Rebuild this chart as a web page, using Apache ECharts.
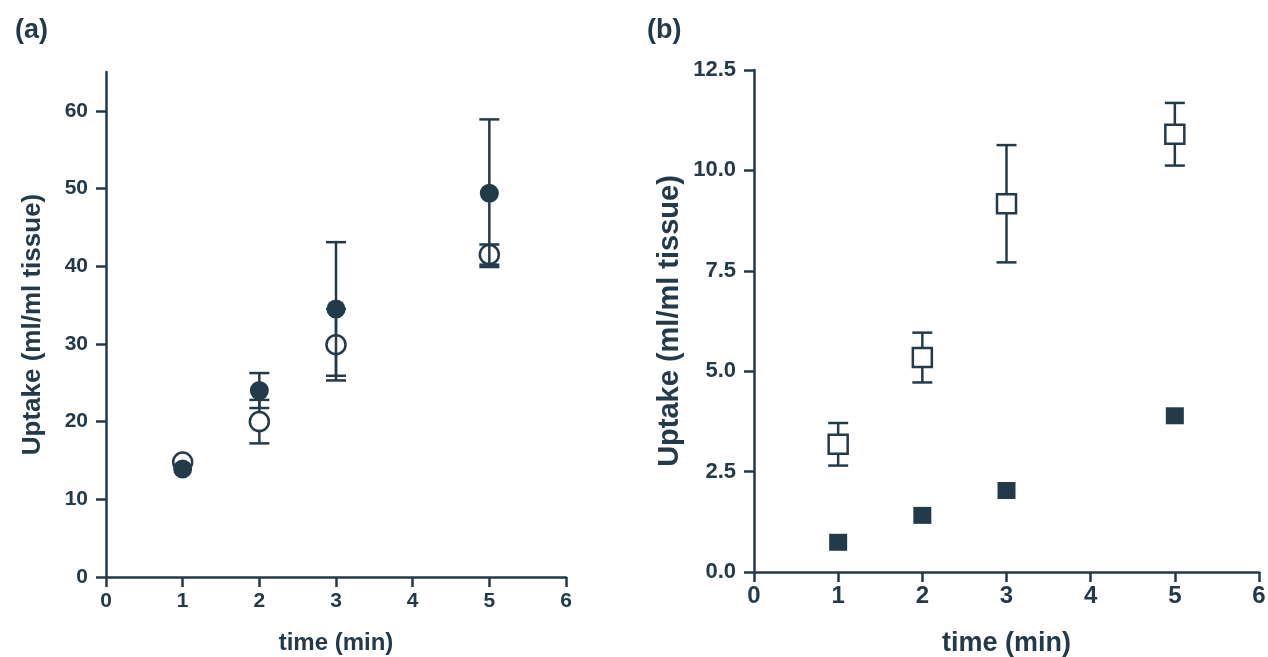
<!DOCTYPE html>
<html>
<head>
<meta charset="utf-8">
<script src="https://cdn.jsdelivr.net/npm/echarts@6/dist/echarts.min.js"></script>
<style>
html,body{margin:0;padding:0;background:#fff;}
#chart{width:1268px;height:657px;}
</style>
</head>
<body>
<div id="chart"></div>
<script>
// ---- Data ----
const timeA = [1, 2, 3, 5];
const filledA = [13.9, 24.0, 34.5, 49.4];
const filledErrA = [0, 2.25, 8.6, 9.5];
const openA = [14.8, 20.0, 29.9, 41.5];
const openErrA = [0, 2.8, 4.6, 1.3];

const timeB = [1, 2, 3, 5];
const openB = [3.18, 5.34, 9.17, 10.90];
const openErrB = [0.53, 0.62, 1.46, 0.78];
const filledB = [0.74, 1.41, 2.03, 3.89];

const xTicks = [0, 1, 2, 3, 4, 5, 6];
const yTicksA = [0, 10, 20, 30, 40, 50, 60];
const yTicksB = [0, 2.5, 5.0, 7.5, 10.0, 12.5];

const panelLabels = ['(a)', '(b)'];
const xTitle = 'time (min)';
const yTitle = 'Uptake (ml/ml tissue)';

// ---- Style ----
const INK = '#233a4b';
const FONT = "'Liberation Sans', Arial, Helvetica, sans-serif";

function pts(xs, ys, errs) {
  return xs.map((x, i) => errs ? [x, ys[i], errs[i]] : [x, ys[i]]);
}

function errRender(capHalf, lw) {
  return function (params, api) {
    const x = api.value(0), y = api.value(1), e = api.value(2);
    if (!e) return null;
    const t = api.coord([x, y + e]);
    const b = api.coord([x, y - e]);
    const st = { stroke: INK, lineWidth: lw };
    return {
      type: 'group',
      children: [
        { type: 'line', shape: { x1: t[0], y1: t[1], x2: b[0], y2: b[1] }, style: st },
        { type: 'line', shape: { x1: t[0] - capHalf, y1: t[1], x2: t[0] + capHalf, y2: t[1] }, style: st },
        { type: 'line', shape: { x1: b[0] - capHalf, y1: b[1], x2: b[0] + capHalf, y2: b[1] }, style: st }
      ]
    };
  };
}

function xAxisCfg(gi, fs, nameFs, gap, margin) {
  return {
    gridIndex: gi, type: 'value', min: 0, max: 6, interval: 1,
    name: xTitle, nameLocation: 'middle', nameGap: gap,
    nameTextStyle: { color: INK, fontFamily: FONT, fontWeight: 'bold', fontSize: nameFs },
    axisLine: { show: true, onZero: false, lineStyle: { color: INK, width: 2.5 } },
    axisTick: { show: true, inside: false, length: 10, lineStyle: { color: INK, width: 2.5 } },
    axisLabel: { color: INK, fontFamily: FONT, fontWeight: 'bold', fontSize: fs, margin: margin,
                 customValues: xTicks, formatter: v => String(v) },
    splitLine: { show: false }
  };
}

const option = {
  animation: false,
  backgroundColor: '#ffffff',
  textStyle: { fontFamily: FONT, color: INK },
  title: [
    { text: panelLabels[0], left: 10, top: 12, textStyle: { color: INK, fontFamily: FONT, fontWeight: 'bold', fontSize: 27 } },
    { text: panelLabels[1], left: 642, top: 12, textStyle: { color: INK, fontFamily: FONT, fontWeight: 'bold', fontSize: 27 } }
  ],
  grid: [
    { left: 106, top: 72, width: 460, height: 505, outerBoundsMode: 'none', containLabel: false },
    { left: 754, top: 70, width: 505, height: 502, outerBoundsMode: 'none', containLabel: false }
  ],
  xAxis: [
    xAxisCfg(0, 21, 24, 54, 14),
    xAxisCfg(1, 24, 27, 58, 12)
  ],
  yAxis: [
    {
      gridIndex: 0, type: 'value', min: 0, max: 65, interval: 10,
      name: yTitle, nameLocation: 'middle', nameGap: 60, nameRotate: 90,
      nameTextStyle: { color: INK, fontFamily: FONT, fontWeight: 'bold', fontSize: 26 },
      axisLine: { show: true, onZero: false, lineStyle: { color: INK, width: 2.5 } },
      axisTick: { show: true, inside: false, length: 10, customValues: yTicksA, lineStyle: { color: INK, width: 2.5 } },
      axisLabel: { color: INK, fontFamily: FONT, fontWeight: 'bold', fontSize: 21, margin: 18,
                   customValues: yTicksA, formatter: v => String(v) },
      splitLine: { show: false }
    },
    {
      gridIndex: 1, type: 'value', min: 0, max: 12.5, interval: 2.5,
      name: yTitle, nameLocation: 'middle', nameGap: 70, nameRotate: 90,
      nameTextStyle: { color: INK, fontFamily: FONT, fontWeight: 'bold', fontSize: 29 },
      axisLine: { show: true, onZero: false, lineStyle: { color: INK, width: 2.5 } },
      axisTick: { show: true, inside: false, length: 10, customValues: yTicksB, lineStyle: { color: INK, width: 2.5 } },
      axisLabel: { color: INK, fontFamily: FONT, fontWeight: 'bold', fontSize: 22, margin: 18,
                   customValues: yTicksB, formatter: v => v.toFixed(1) },
      splitLine: { show: false }
    }
  ],
  series: [
    // Panel (a)
    { type: 'custom', xAxisIndex: 0, yAxisIndex: 0, z: 1, silent: true,
      renderItem: errRender(10, 2.5), encode: { x: 0, y: 1 }, data: pts(timeA, openA, openErrA) },
    { type: 'scatter', xAxisIndex: 0, yAxisIndex: 0, z: 2, silent: true,
      symbol: 'circle', symbolSize: 19,
      itemStyle: { color: '#ffffff', borderColor: INK, borderWidth: 2.5, opacity: 1 },
      data: pts(timeA, openA) },
    { type: 'custom', xAxisIndex: 0, yAxisIndex: 0, z: 3, silent: true,
      renderItem: errRender(10, 2.5), encode: { x: 0, y: 1 }, data: pts(timeA, filledA, filledErrA) },
    { type: 'scatter', xAxisIndex: 0, yAxisIndex: 0, z: 4, silent: true,
      symbol: 'circle', symbolSize: 19,
      itemStyle: { color: INK, borderColor: INK, borderWidth: 0, opacity: 1 },
      data: pts(timeA, filledA) },
    // Panel (b)
    { type: 'custom', xAxisIndex: 1, yAxisIndex: 1, z: 1, silent: true,
      renderItem: errRender(10, 2.5), encode: { x: 0, y: 1 }, data: pts(timeB, openB, openErrB) },
    { type: 'scatter', xAxisIndex: 1, yAxisIndex: 1, z: 2, silent: true,
      symbol: 'rect', symbolSize: [19, 19],
      itemStyle: { color: '#ffffff', borderColor: INK, borderWidth: 2.5, opacity: 1 },
      data: pts(timeB, openB) },
    { type: 'scatter', xAxisIndex: 1, yAxisIndex: 1, z: 4, silent: true,
      symbol: 'rect', symbolSize: [18, 17],
      itemStyle: { color: INK, opacity: 1 },
      data: pts(timeB, filledB) }
  ]
};

const chart = echarts.init(document.getElementById('chart'), null, { renderer: 'canvas' });
chart.setOption(option);
</script>
</body>
</html>
